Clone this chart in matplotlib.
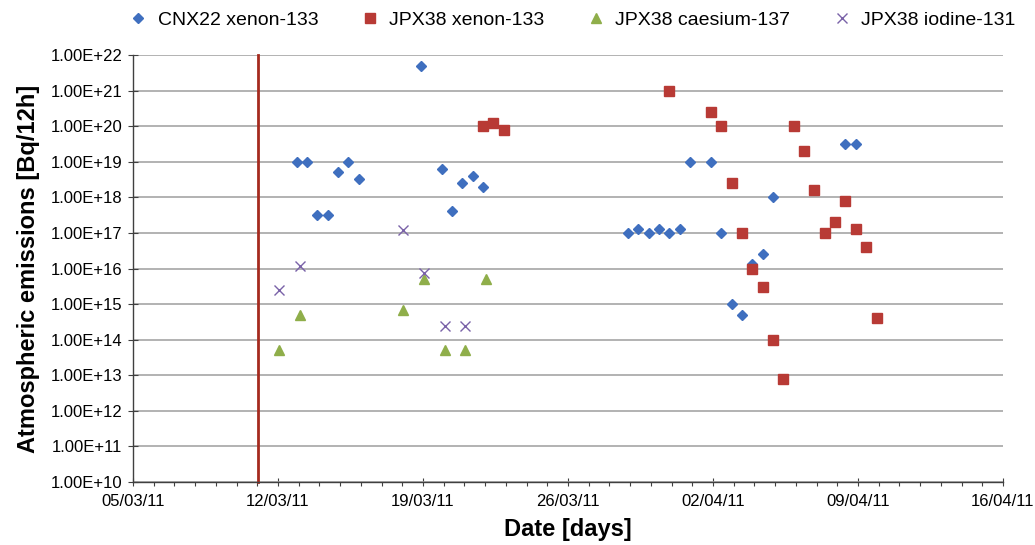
import matplotlib
matplotlib.use("Agg")
import math
import matplotlib.pyplot as plt
import matplotlib.dates as mdates
from matplotlib.ticker import LogLocator, FuncFormatter, NullLocator
import pandas as pd

plt.rcParams['font.family'] = ['Liberation Sans', 'DejaVu Sans']

# ---------------- data ----------------
cnx_xe_dates = ["2011-03-12 21:30", "2011-03-13 09:30", "2011-03-13 21:30", "2011-03-14 09:30",
                "2011-03-14 21:30", "2011-03-15 09:30", "2011-03-15 21:30", "2011-03-18 21:30",
                "2011-03-19 21:30", "2011-03-20 09:30", "2011-03-20 21:30", "2011-03-21 09:30",
                "2011-03-21 21:30",
                "2011-03-28 21:30", "2011-03-29 09:30", "2011-03-29 21:30", "2011-03-30 09:30",
                "2011-03-30 21:30", "2011-03-31 09:30", "2011-03-31 21:30", "2011-04-01 21:30",
                "2011-04-02 09:30", "2011-04-02 21:30", "2011-04-03 09:30", "2011-04-03 21:30",
                "2011-04-04 09:30", "2011-04-04 21:30", "2011-04-08 09:30", "2011-04-08 21:30"]
cnx_xe_values = [1e19, 1e19, 3.2e17, 3.2e17,
                 5e18, 1e19, 3.2e18, 5e21,
                 6.3e18, 4e17, 2.5e18, 4e18,
                 2e18,
                 1e17, 1.25e17, 1e17, 1.25e17,
                 1e17, 1.25e17, 1e19, 1e19,
                 1e17, 1e15, 5e14, 1.3e16,
                 2.5e16, 1e18, 3.1e19, 3.1e19]

jpx_xe_dates = ["2011-03-21 21:30", "2011-03-22 09:30", "2011-03-22 21:30",
                "2011-03-30 21:30", "2011-04-01 21:30", "2011-04-02 09:30", "2011-04-02 21:30",
                "2011-04-03 09:30", "2011-04-03 21:30", "2011-04-04 09:30", "2011-04-04 21:30",
                "2011-04-05 09:30", "2011-04-05 21:30", "2011-04-06 09:30", "2011-04-06 21:30",
                "2011-04-07 09:30", "2011-04-07 21:30", "2011-04-08 09:30", "2011-04-08 21:30",
                "2011-04-09 09:30", "2011-04-09 21:30"]
jpx_xe_values = [1e20, 1.25e20, 7.8e19,
                 1e21, 2.5e20, 1e20, 2.5e18,
                 1e17, 1e16, 3e15, 1e14,
                 8e12, 1e20, 2e19, 1.6e18,
                 1e17, 2e17, 8e17, 1.25e17,
                 4e16, 4e14]

jpx_cs_dates = ["2011-03-12 01:00", "2011-03-13 01:00", "2011-03-18 01:00", "2011-03-19 01:00",
                "2011-03-20 01:00", "2011-03-21 01:00", "2011-03-22 01:00"]
jpx_cs_values = [5e13, 5e14, 7e14, 5e15, 5e13, 5e13, 5e15]

jpx_i_dates = ["2011-03-12 01:00", "2011-03-13 01:00", "2011-03-18 01:00", "2011-03-19 01:00",
               "2011-03-20 01:00", "2011-03-21 01:00"]
jpx_i_values = [2.5e15, 1.2e16, 1.2e17, 7.5e15, 2.5e14, 2.5e14]

event_date = "2011-03-11 01:00"
x_ticks = ["2011-03-05", "2011-03-12", "2011-03-19", "2011-03-26", "2011-04-02", "2011-04-09", "2011-04-16"]

labels = ["CNX22 xenon-133", "JPX38 xenon-133", "JPX38 caesium-137", "JPX38 iodine-131"]

# ---------------- figure ----------------
fig = plt.figure(figsize=(10.35, 5.45), dpi=100)
ax = fig.add_axes([133/1035, 1 - 482/545, 870/1035, 427/545])

ax.plot(pd.to_datetime(cnx_xe_dates), cnx_xe_values, ls='none', marker='D', ms=4.7,
        color='#3F6FBF', label=labels[0], zorder=3)
ax.plot(pd.to_datetime(jpx_xe_dates), jpx_xe_values, ls='none', marker='s', ms=7.2,
        color='#B83A35', label=labels[1], zorder=4)
ax.plot(pd.to_datetime(jpx_cs_dates), jpx_cs_values, ls='none', marker='^', ms=7.5,
        color='#8FAE4A', label=labels[2], zorder=5)
ax.plot(pd.to_datetime(jpx_i_dates), jpx_i_values, ls='none', marker='x', ms=6.5, mew=1.0,
        color='#7A62A8', label=labels[3], zorder=6)

ev = pd.to_datetime(event_date)
ax.plot([ev, ev], [1e10, 1e22], color='#A52A1E', lw=2.0, zorder=2, clip_on=False)

ax.set_yscale('log')
ax.set_ylim(1e10, 1e22)
xt = pd.to_datetime(x_ticks)
ax.set_xlim(xt[0], xt[-1])
ax.set_xticks(xt)
ax.xaxis.set_major_formatter(mdates.DateFormatter('%d/%m/%y'))
ax.xaxis.set_minor_locator(mdates.DayLocator())

ax.yaxis.set_major_locator(LogLocator(base=10, numticks=20))
ax.yaxis.set_minor_locator(NullLocator())
ax.yaxis.set_major_formatter(FuncFormatter(lambda v, p: "1.00E+%02d" % round(math.log10(v))))

ax.grid(axis='y', which='major', color='#A6A6A6', lw=1.2)
ax.set_axisbelow(True)
for s in ['top', 'right']:
    ax.spines[s].set_visible(False)
for s in ['left', 'bottom']:
    ax.spines[s].set_color('#404040')
    ax.spines[s].set_linewidth(1.0)

ax.tick_params(axis='y', which='major', direction='inout', length=7, width=0.8,
               labelsize=12, pad=4, colors='#404040', labelcolor='black')
ax.tick_params(axis='x', which='major', direction='inout', length=6, width=0.8,
               labelsize=12, pad=6, colors='#404040', labelcolor='black')
ax.tick_params(axis='x', which='minor', direction='out', length=3, width=0.8, colors='#404040')

ax.set_ylabel("Atmospheric emissions [Bq/12h]", fontsize=17, fontweight='bold', labelpad=8)
ax.set_xlabel("Date [days]", fontsize=17, fontweight='bold', labelpad=6)

fig.legend(loc='center', bbox_to_anchor=(572/1035, 1 - 20/545), ncol=4, frameon=False,
           fontsize=14, handlelength=1.0, handletextpad=0.5, columnspacing=2.15,
           borderpad=0, borderaxespad=0)

fig.savefig("out.png", dpi=100)
